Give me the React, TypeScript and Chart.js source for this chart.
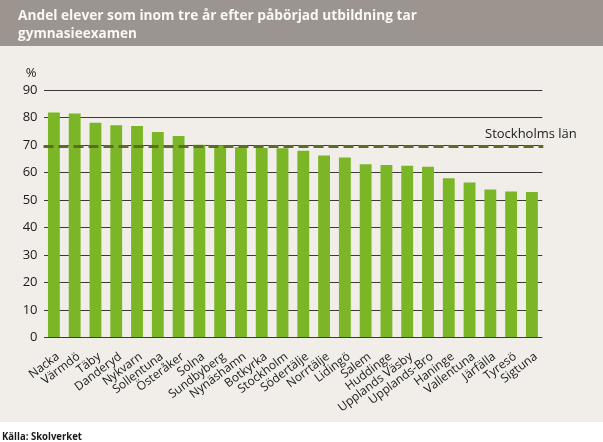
import React, { useEffect, useRef } from "react";
import { Chart, registerables } from "chart.js";

Chart.register(...registerables);

const titleLines = [
  "Andel elever som inom tre år efter påbörjad utbildning tar",
  "gymnasieexamen",
];
const sourceText = "Källa: Skolverket";
const unitLabel = "%";

const categories = [
  "Nacka", "Värmdö", "Täby", "Danderyd", "Nykvarn", "Sollentuna", "Österåker",
  "Solna", "Sundbyberg", "Nynäshamn", "Botkyrka", "Stockholm", "Södertälje",
  "Norrtälje", "Lidingö", "Salem", "Huddinge", "Upplands Väsby", "Upplands-Bro",
  "Haninge", "Vallentuna", "Järfälla", "Tyresö", "Sigtuna",
];
const values = [
  81.8, 81.5, 78.1, 77.2, 76.9, 74.7, 73.3,
  70.1, 69.9, 69.2, 68.9, 68.8, 67.9,
  66.2, 65.5, 63.0, 62.7, 62.5, 62.1,
  57.9, 56.4, 53.8, 53.1, 52.9,
];
const countyLabel = "Stockholms län";
const countyValue = 69.5;
const yMin = 0;
const yMax = 90;
const yStep = 10;

const FONT = "'Open Sans', 'Noto Sans', sans-serif";

const decorPlugin = {
  id: "decor",
  beforeDraw(chart: any) {
    const { ctx, width, height } = chart;
    ctx.save();
    ctx.fillStyle = "#ffffff";
    ctx.fillRect(0, 0, width, height);
    ctx.fillStyle = "#f1eeea";
    ctx.fillRect(0, 46, width, 376);
    ctx.fillStyle = "#9c948e";
    ctx.fillRect(0, 0, width, 46);
    ctx.fillStyle = "#faf8f5";
    ctx.font = `bold 14.5px ${FONT}`;
    ctx.textAlign = "left";
    ctx.textBaseline = "alphabetic";
    ctx.fillText(titleLines[0], 18, 19.5, 399);
    ctx.fillText(titleLines[1], 18, 37.5, 119);
    ctx.fillStyle = "#1a1a1a";
    ctx.font = `13px ${FONT}`;
    ctx.textAlign = "center";
    ctx.fillText(unitLabel, 31, 76.5);
    ctx.font = `bold 10px ${FONT}`;
    ctx.textAlign = "left";
    ctx.fillText(sourceText, 2, 440, 80);
    ctx.restore();
  },
  afterDatasetsDraw(chart: any) {
    const { ctx, chartArea } = chart;
    const y = chart.scales.y.getPixelForValue(countyValue);
    ctx.save();
    ctx.strokeStyle = "#5e6a28";
    ctx.lineWidth = 3;
    ctx.setLineDash([10, 5]);
    ctx.beginPath();
    ctx.moveTo(chartArea.left, y);
    ctx.lineTo(chartArea.right + 1, y);
    ctx.stroke();
    ctx.setLineDash([]);
    ctx.fillStyle = "#1a1a1a";
    ctx.font = `13px ${FONT}`;
    ctx.textAlign = "left";
    ctx.textBaseline = "alphabetic";
    ctx.fillText(countyLabel, 485, y - 8, 97);
    ctx.restore();
  },
};

export default function App() {
  const ref = useRef<HTMLCanvasElement>(null);
  useEffect(() => {
    document.body.style.margin = "0";
    const canvas = ref.current!;
    const chart = new Chart(canvas, {
      type: "bar",
      data: {
        labels: categories,
        datasets: [
          {
            data: values,
            backgroundColor: "#7ab625",
            borderWidth: 0,
            barPercentage: 0.57,
            categoryPercentage: 1,
          },
        ],
      },
      options: {
        animation: false,
        responsive: false,
        devicePixelRatio: 1,
        layout: { padding: { top: 90, left: 0, right: 60.7, bottom: 0 } },
        plugins: {
          legend: { display: false },
          tooltip: { enabled: false },
          title: { display: false },
        },
        scales: {
          x: {
            grid: { display: false },
            border: { display: false },
            ticks: {
              autoSkip: false,
              minRotation: 37,
              maxRotation: 37,
              padding: 4,
              labelOffset: 4,
              color: "#1a1a1a",
              font: { family: FONT, size: 12 },
            },
            afterFit(scale: any) {
              scale.height = 104.5;
            },
          },
          y: {
            min: yMin,
            max: yMax,
            grid: {
              color: "#3a3a3a",
              lineWidth: 1,
              drawTicks: false,
            },
            border: { display: false },
            ticks: {
              stepSize: yStep,
              padding: 6,
              color: "#1a1a1a",
              font: { family: FONT, size: 13 },
            },
            afterFit(scale: any) {
              scale.width = 43.5;
            },
          },
        },
      },
      plugins: [decorPlugin],
    });
    return () => chart.destroy();
  }, []);
  return (
    <div style={{ width: 603, height: 442 }}>
      <canvas ref={ref} width={603} height={442} />
    </div>
  );
}
